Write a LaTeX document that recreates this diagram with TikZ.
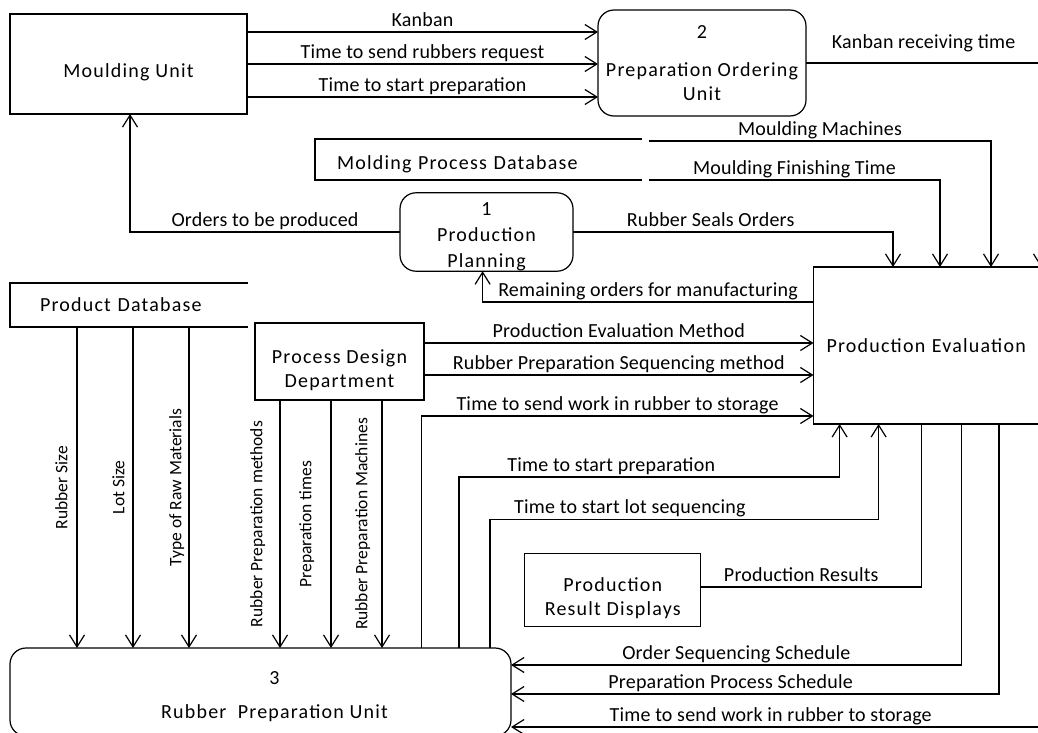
\documentclass[tikz,border=0pt]{standalone}
\usepackage{fontspec}
\setmainfont{Carlito}[LetterSpace=1]
\newfontfamily\boxfont{Carlito}[LetterSpace=6]
\newfontfamily\sidefont{Carlito}
\usetikzlibrary{arrows.meta,positioning,calc}

\begin{document}
\begin{tikzpicture}[x=1pt,y=-1pt,line width=1.2pt,
  >={Straight Barb[length=12pt,width=15pt]},
  font=\fontsize{20}{24}\selectfont,
  unit/.style={draw,inner sep=0pt,outer sep=0pt,align=center,font=\boxfont\fontsize{20}{24}\selectfont},
  process/.style={unit,rounded corners=16pt},
  store/.style={inner sep=0pt,outer sep=0pt,align=left,font=\boxfont\fontsize{20}{24}\selectfont},
  lower/.style={execute at begin node={\rule{0pt}{#1}}},
  flow/.style={text depth=0pt,inner sep=0pt,above=5pt},
  side/.style={rotate=90,anchor=south,text depth=0pt,inner sep=0pt,font=\sidefont\fontsize{17.5}{20}\selectfont}
]
\useasboundingbox (0,0) rectangle (1038,733);

% the units and processes
\node[unit,lower=31pt,minimum width=237pt,minimum height=100pt] (mu) at (128.5,64) {Moulding Unit};
\node[process,minimum width=208pt,minimum height=106pt] (pou) at (702,63) {2\\[14pt]Preparation Ordering\\Unit};
\node[process,lower=75pt,minimum width=173pt,minimum height=76pt] (pp) at (486.5,232) {1\\[2pt]Production\\[2pt]Planning};
\node[unit,lower=55pt,minimum width=169pt,minimum height=77pt] (pdd) at (339.5,361.5) {Process Design\\Department};
\node[unit,lower=54pt,minimum width=176pt,minimum height=73pt] (prd) at (612.75,590.3) {Production\\Result Displays};
\node[unit,text width=210pt,inner xsep=13pt,align=left,minimum height=157pt] (pe) at (931.5,345.5) {Production Evaluation};
\node[process,minimum width=501pt,minimum height=88pt,
  label={[font=\boxfont\fontsize{20}{24}\selectfont,align=center,xshift=14pt,yshift=-5pt]center:{3\\[10pt]Rubber~ Preparation Unit}}] (rpu) at (260.5,692) {};

% the data stores
\node[store,lower=23pt,text width=283pt,inner xsep=22pt,minimum height=41pt] (mpd) at (478.5,159.5) {Molding Process Database};
\draw (mpd.north east) -- (mpd.north west) -- (mpd.south west) -- (mpd.south east);
\node[store,text width=178pt,inner xsep=30pt,minimum height=44pt] (pd) at (129,305) {Product Database};
\draw (pd.north east) -- (pd.north west) -- (pd.south west) -- (pd.south east);

% flows of the moulding unit
\foreach \y/\txt in {32/Kanban,64/Time to send rubbers request,97/Time to start preparation}
  \draw[->] (mu.east |- 0,\y) -- node[flow]{\txt} (pou.west |- 0,\y);
\draw[->] (pp.west) -- node[flow]{Orders to be produced} (130,0 |- pp.west) -- (130,0 |- mu.south);

% flows into the production evaluation
\draw[->] (pou.east) -- node[flow,above=14pt]{Kanban receiving time} (1041,0 |- pou.east) -- (1041,0 |- pe.north);
\draw[->] ([xshift=7pt,yshift=-2pt]mpd.north east) -- node[flow]{Moulding Machines} (991,141) -- (991,0 |- pe.north);
\draw[->] ([xshift=7pt]mpd.south east) -- node[flow]{Moulding Finishing Time} (940,180) -- (940,0 |- pe.north);
\draw[->] (pp.east) -- node[flow,pos=0.43]{Rubber Seals Orders} (893,0 |- pp.east) -- (893,0 |- pe.north);
\draw[->] (pe.west |- 0,302) -- node[flow]{Remaining orders for manufacturing} (482.6,302) -- (482.6,0 |- pp.south);
\foreach \y/\txt in {343/Production Evaluation Method,375/Rubber Preparation Sequencing method}
  \draw[->] (pdd.east |- 0,\y) -- node[flow]{\txt} (pe.west |- 0,\y);

% flows into the rubber preparation unit
\foreach \x/\g/\txt in {77/-9pt/Rubber Size,133/-8pt/Lot Size,189/-7pt/Type of Raw Materials}
  \draw[->] (\x,0 |- pd.south) -- node[xshift=\g,side]{\txt} (\x,0 |- rpu.north);
\foreach \x/\g/\txt in {280/-17pt/Rubber Preparation methods,331/-19pt/Preparation times,382/-14pt/Rubber Preparation Machines}
  \draw[->] (\x,0 |- pdd.south) -- node[xshift=\g,side]{\txt} (\x,0 |- rpu.north);

% flows back from the rubber preparation unit
\draw[->] (421.6,0 |- rpu.north) -- (421.6,416) -- node[flow]{Time to send work in rubber to storage} (pe.west |- 0,416);
\draw[->] (459,0 |- rpu.north) -- (459,477) -- node[flow,pos=0.4]{Time to start preparation} (839.6,477) -- (839.6,0 |- pe.south);
\draw[->] (490,0 |- rpu.north) -- (490,519.4) -- node[flow,pos=0.36]{Time to start lot sequencing} (878.6,519.4) -- (878.6,0 |- pe.south);

% flows out of the production evaluation
\draw (921.7,0 |- pe.south) -- (921.7,587) -- node[flow,pos=0.545]{Production Results} (prd.east |- 0,587);
\draw[->] (961.7,0 |- pe.south) -- (961.7,665) -- node[flow]{Order Sequencing Schedule} (rpu.east |- 0,665);
\draw[->] (999,0 |- pe.south) -- (999,694) -- node[flow,pos=0.55]{Preparation Process Schedule} (rpu.east |- 0,694);
\draw[->] (1041,0 |- pe.south) -- (1041,727) -- node[flow,pos=0.51]{Time to send work in rubber to storage} (rpu.east |- 0,727);
\end{tikzpicture}
\end{document}
